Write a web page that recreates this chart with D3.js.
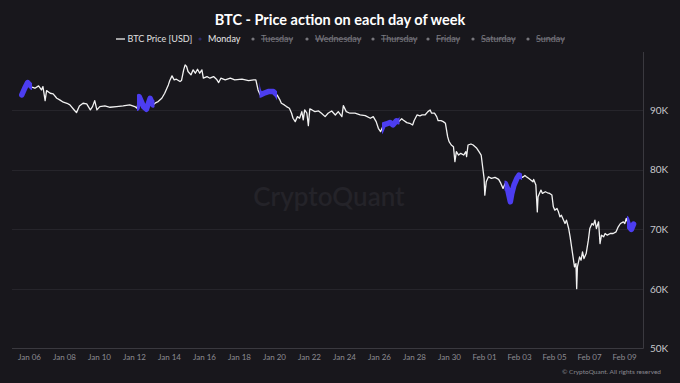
<!DOCTYPE html>
<html>
<head>
<meta charset="utf-8">
<script src="https://cdn.jsdelivr.net/npm/d3@7"></script>
<style>
  html, body { margin: 0; padding: 0; background: #18171c; }
  svg { display: block; }
  text { font-family: Lato, "Open Sans", sans-serif; }
</style>
</head>
<body>
<svg id="chart" width="680" height="383"></svg>
<script>
// ---- data (hours since 2026-01-05 00:00 UTC, BTC price in USD) ----
const hours = [
  10,14,18,21,24,28,33,37,39,42,44,49,53,58,62,67,72,76,81,85,89,94,99,104,107,110,113,117,124,131,140,149,158,165,
  168,171,177,181,186,190,194,197,202,206,209,211,213,216,219,222,227,229,232,234,236,238,242,245,248,251,254,257,259,
  264,268,273,277,280,283,289,296,302,312,321,328,331,334,
  337,342,348,355,360,364,366,370,373,377,380,382,385,388,391,394,396,398,401,403,405,408,412,417,421,426,430,435,440,
  444,449,451,455,460,467,474,481,488,492,496,499,502,
  506,510,515,519,524,527,531,533,538,542,546,548,552,556,559,563,567,570,572,576,579,581,585,588,591,594,596,599,602,
  604,606,609,612,616,619,620,622,626,629,634,637,640,642,644,645,647,650,654,659,664,667,670,
  673,676,680,682,685,689,692,697,700,702,705,708,711,712,715,717,718,722,724,728,731,734,737,739,741,744,746,748,750,
  753,755,757,760,762,764,766,768,770,771,772,775,777,779,781,784,787,789,792,794,796,798,801,803,805,808,810,813,817,
  821,825,828,831,835,837,839,843,846,849
];
const prices = [
  92520,93640,94590,94200,93810,93640,94030,93360,93920,91560,93240,92800,92690,91960,91680,91290,91120,90840,90120,89550,90670,91120,91010,90000,90560,91560,90000,90560,90670,90450,90560,90670,90840,90560,
  90290,92230,90560,90120,91960,90840,91230,91400,91960,92800,93640,94200,94930,95710,95040,95150,94760,94930,96720,97560,97280,96440,95880,96720,96160,96830,96160,96720,95320,
  95600,95320,95600,95150,94590,95320,95040,95320,95040,95150,94930,95040,95040,93360,
  92520,92800,93080,93080,92520,91680,91120,90840,90560,90290,89450,88610,88040,88880,88610,89720,88320,90000,89450,87360,90170,90000,89720,89830,89450,88880,89450,89830,89160,
  89720,88880,90720,89720,89450,89450,89160,89040,88610,88880,88040,86920,86360,
  87480,87650,87900,87500,88200,88040,88530,88320,87870,87760,87480,88200,89160,88990,89160,89160,89720,90000,89450,89450,88880,88200,88200,88040,87760,85520,84680,84120,83840,
  81320,83000,82440,82720,82440,83000,82160,84120,84290,84120,83570,83000,82440,80480,78530,75720,77960,78800,78530,78700,78360,77680,76840,
  77680,76840,74600,76000,77400,78530,79080,78700,79000,78800,78530,78240,77960,78360,77400,72910,75440,76560,76000,76280,76110,76000,75720,73760,73200,73480,72910,72070,72360,
  71520,70960,71520,70120,68720,67040,65360,63680,64240,60040,63680,65360,64800,66200,65080,65920,68160,70120,70960,70680,71520,70120,71240,67600,69000,68720,69280,69000,69280,
  69280,69560,70400,70960,71240,70960,71800,70400,69960,70850
];
const yTicks = [50000, 60000, 70000, 80000, 90000];
const legendDays = ["Monday", "Tuesday", "Wednesday", "Thursday", "Friday", "Saturday", "Sunday"];
const startDate = Date.UTC(2026, 0, 5);
const endDate = Date.UTC(2026, 1, 10);

// ---- build ----
const data = hours.map((h, i) => ({ t: new Date(startDate + h * 3600e3), v: prices[i] }));

const svg = d3.select("#chart");
const W = 680, H = 383;
svg.append("rect").attr("width", W).attr("height", H).attr("fill", "#18171c");

const x = d3.scaleUtc().domain([new Date(startDate), new Date(endDate)]).range([14.5, 644.5]);
const y = d3.scaleLinear().domain([50000, 100000]).range([348.5, 50.3]);
const plotL = 12, plotR = 643.5, plotT = 52, plotB = 348.5;

// watermark
svg.append("text")
  .attr("x", 329).attr("y", 206)
  .attr("text-anchor", "middle")
  .attr("font-family", "Open Sans, sans-serif")
  .attr("font-size", 26).attr("font-weight", 600)
  .attr("fill", "#242329")
  .text("CryptoQuant");

// grid lines
svg.append("g").selectAll("line").data(yTicks.slice(1)).join("line")
  .attr("x1", plotL).attr("x2", plotR)
  .attr("y1", d => Math.round(y(d)) + 0.5).attr("y2", d => Math.round(y(d)) + 0.5)
  .attr("stroke", "#26252b").attr("stroke-width", 1);

// bottom axis line
svg.append("line").attr("x1", plotL).attr("x2", plotR).attr("y1", plotB).attr("y2", plotB)
  .attr("stroke", "#3a393f");
// right axis line
svg.append("line").attr("x1", plotR).attr("x2", plotR).attr("y1", plotT).attr("y2", plotB)
  .attr("stroke", "#3a393f");

// y axis (right)
const yAxis = d3.axisRight(y).tickValues(yTicks).tickSize(0).tickPadding(0)
  .tickFormat(d => (d / 1000) + "K");
const gy = svg.append("g").attr("transform", `translate(650,0)`).call(yAxis);
gy.select(".domain").remove();
gy.selectAll("text").attr("fill", "#c8c8cc").attr("font-size", 10).attr("font-family", "Lato, sans-serif");

// x axis
const xTickDates = d3.utcDay.range(new Date(Date.UTC(2026, 0, 6)), new Date(Date.UTC(2026, 1, 10)), 2);
const xAxis = d3.axisBottom(x).tickValues(xTickDates).tickSize(0).tickPadding(0)
  .tickFormat(d3.utcFormat("%b %d"));
const gx = svg.append("g").attr("transform", `translate(-3,354)`).call(xAxis);
gx.select(".domain").remove();
gx.selectAll("text").attr("fill", "#8c8b92").attr("font-size", 8).attr("font-family", "Lato, sans-serif");

// clip for Mondays
const mondays = d3.utcMonday.range(new Date(startDate), new Date(endDate));
const clip = svg.append("defs").append("clipPath").attr("id", "mon");
clip.selectAll("rect").data(mondays).join("rect")
  .attr("x", d => x(d)).attr("width", d => x(d3.utcDay.offset(d, 1)) - x(d))
  .attr("y", 0).attr("height", H);

const line = d3.line().x(d => x(d.t)).y(d => y(d.v));

svg.append("path").datum(data)
  .attr("d", line).attr("fill", "none")
  .attr("stroke", "#f2f2f2").attr("stroke-width", 1.3).attr("stroke-linejoin", "round");

svg.append("path").datum(data)
  .attr("d", line).attr("fill", "none")
  .attr("clip-path", "url(#mon)")
  .attr("stroke", "#4c3df0").attr("stroke-width", 5.5).attr("stroke-linejoin", "round").attr("stroke-linecap", "round");

// title
svg.append("text").attr("x", 340).attr("y", 25).attr("text-anchor", "middle")
  .attr("font-size", 14.5).attr("font-weight", 700).attr("fill", "#ffffff")
  .text("BTC - Price action on each day of week");

// legend
const lg = svg.append("g").attr("font-size", 9);
lg.append("line").attr("x1", 116).attr("x2", 125).attr("y1", 39).attr("y2", 39)
  .attr("stroke", "#eeeeee").attr("stroke-width", 1.3);
lg.append("text").attr("x", 127.5).attr("y", 42).attr("fill", "#e0e0e0").text("BTC Price [USD]");

const dayX = [200, 253, 307, 373, 428, 473, 528];
legendDays.forEach((dname, i) => {
  const active = i === 0;
  lg.append("circle").attr("cx", dayX[i]).attr("cy", 39).attr("r", 1.6)
    .attr("fill", active ? "#2c2a6a" : "#77767c");
  lg.append("text").attr("x", dayX[i] + 8).attr("y", 42)
    .attr("fill", active ? "#e8e8e8" : "#7a7980")
    .attr("text-decoration", active ? null : "line-through")
    .text(dname);
});

// footer
svg.append("text").attr("x", 661).attr("y", 374).attr("text-anchor", "end")
  .attr("font-size", 6.5).attr("fill", "#8a8990")
  .text("© CryptoQuant. All rights reserved");
</script>
</body>
</html>
